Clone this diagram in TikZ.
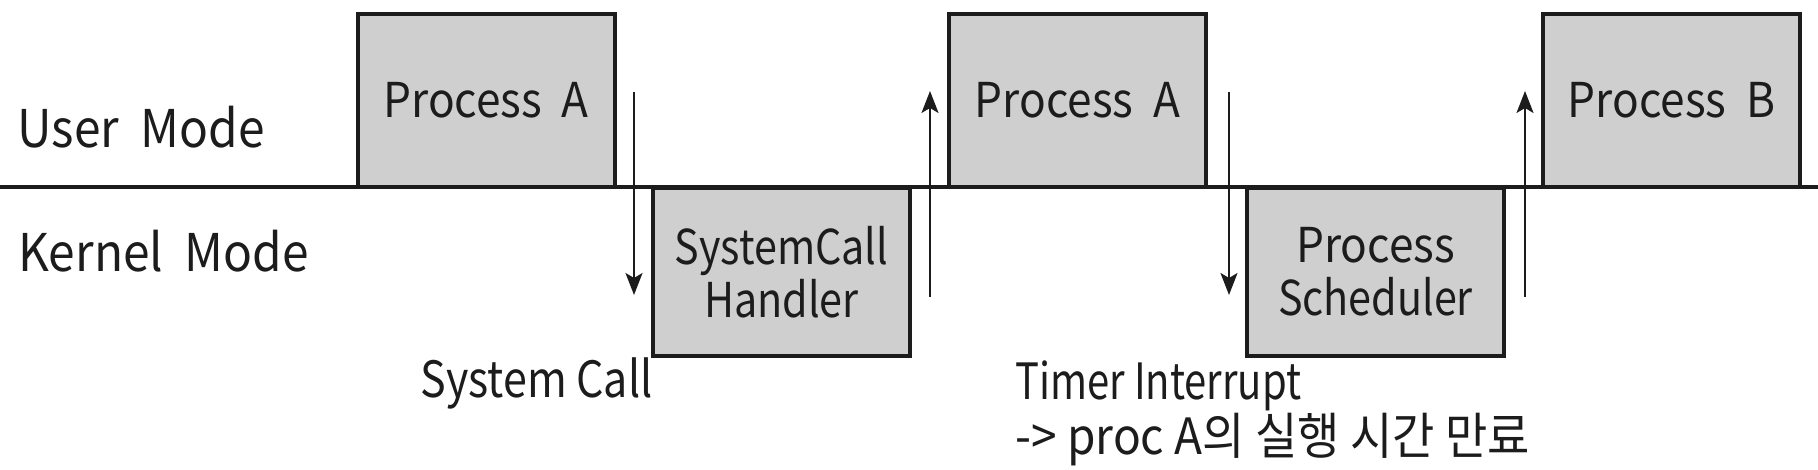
\documentclass[tikz,border=0pt]{standalone}
\usepackage{fontspec}
\setmainfont{Noto Sans CJK KR}[FakeStretch=0.92]
\newfontfamily\slimfont{Noto Sans CJK KR}[FakeStretch=0.86]
\newfontfamily\slimmerfont{Noto Sans CJK KR}[FakeStretch=0.8]
\usetikzlibrary{arrows.meta}
\definecolor{boxgray}{RGB}{207,207,207}
\definecolor{ink}{RGB}{28,28,28}

\begin{document}
\begin{tikzpicture}[>={Stealth[length=11bp,width=8.5bp,inset=2.5bp]},line join=miter,
  proc/.style={draw=ink,line width=2bp,fill=boxgray,rectangle,minimum width=128.5bp,inner sep=0pt,
    text=ink,align=center,font=\fontsize{24bp}{26.5bp}\selectfont},
  mode/.style={anchor=base west,inner sep=0pt,text=ink,font=\fontsize{26bp}{28bp}\selectfont},
  cause/.style={anchor=base west,inner sep=0pt,text=ink,align=left,font=\fontsize{25bp}{27.5bp}\selectfont},
  switch/.style={draw=ink,line width=1bp}]
\useasboundingbox (0bp,0bp) rectangle (909bp,235bp);
%%
\node (user_mode) at (8.5bp,161bp) [mode] {User\ \ Mode};
  \node (kernel_mode) at (9bp,99bp) [mode] {Kernel\ \ Mode};
  \node (proc_a_1) at (243bp,184.75bp) [proc,minimum height=86.5bp] {Process\ \ A};
  \node (syscall_handler) at (390.75bp,99bp) [proc,minimum height=84bp] {\slimfont SystemCall\\\slimfont Handler};
  \node (proc_a_2) at (538.75bp,184.75bp) [proc,minimum height=86.5bp] {Process\ \ A};
  \node (proc_sched) at (687.75bp,99bp) [proc,minimum height=84bp] {Process\\\slimfont Scheduler};
  \node (proc_b) at (835.75bp,184.75bp) [proc,minimum height=86.5bp] {Process\ \ B};
  \node (sys_call) at (210bp,36.5bp) [cause] {\slimfont System Call};
  \node (timer_int) at (507.5bp,8bp) [cause] {\slimmerfont Timer Interrupt\\-> proc A의 실행 시간 만료};
  \coordinate (mode_l) at (0bp,141.5bp);
  \coordinate (mode_r) at (909bp,141.5bp);
  \coordinate (sys_call_top) at (317bp,189bp);
  \coordinate (sys_call_bot) at (317bp,87.5bp);
  \coordinate (ret_1_bot) at (465bp,86.5bp);
  \coordinate (ret_1_top) at (465bp,189.5bp);
  \coordinate (timer_top) at (614.5bp,189bp);
  \coordinate (timer_bot) at (614.5bp,87.5bp);
  \coordinate (ret_2_bot) at (762.5bp,86.5bp);
  \coordinate (ret_2_top) at (762.5bp,189.5bp);
  \draw [draw=ink,line width=2bp] (mode_l) -- (mode_r);
  \draw [switch,->,solid] (sys_call_top) -- (sys_call_bot);
  \draw [switch,->,solid] (ret_1_bot) -- (ret_1_top);
  \draw [switch,->,solid] (timer_top) -- (timer_bot);
  \draw [switch,->,solid] (ret_2_bot) -- (ret_2_top);
%
\end{tikzpicture}
\end{document}
